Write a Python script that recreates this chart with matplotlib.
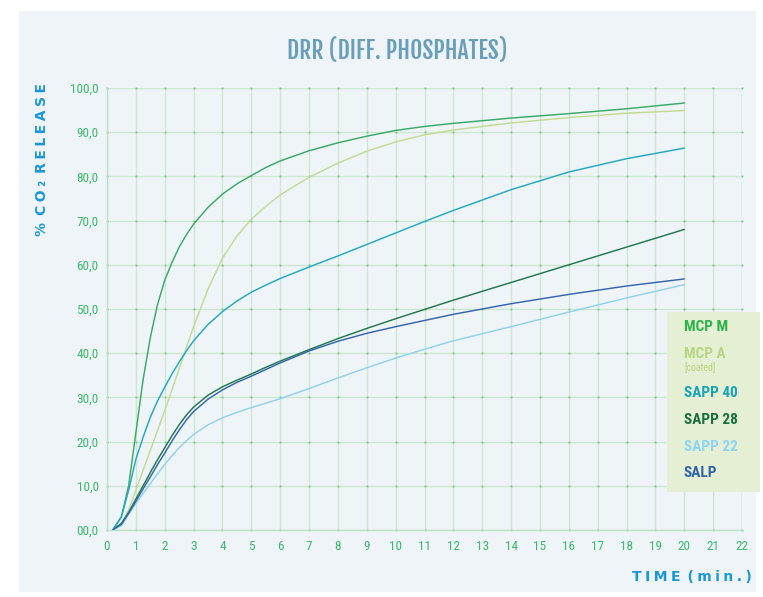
import matplotlib
matplotlib.use("Agg")
import matplotlib.pyplot as plt
from matplotlib.patches import Rectangle
import numpy as np

# ---- data ----
time    = [0.2, 0.5, 0.75, 1, 1.25, 1.5, 1.75, 2, 2.25, 2.5, 2.75, 3, 3.5, 4, 4.5, 5, 5.5, 6, 7, 8, 9, 10, 11, 12, 14, 16, 18, 20]
mcp_m   = [0, 3, 10, 22, 34, 43.5, 51, 56.5, 60.5, 64, 66.8, 69.2, 73, 76, 78.3, 80.2, 82, 83.5, 85.8, 87.6, 89.1, 90.4, 91.3, 92.0, 93.2, 94.2, 95.3, 96.6]
mcp_a   = [0, 1.5, 4.5, 9, 13.5, 18, 22.5, 27, 31.7, 36.5, 41.3, 46, 54.5, 61.5, 66.5, 70.3, 73.2, 75.8, 79.8, 83.0, 85.7, 87.8, 89.4, 90.5, 92.1, 93.3, 94.3, 94.9]
sapp_40 = [0, 3, 9, 16, 21, 25.5, 29.2, 32.3, 35.3, 38, 40.5, 42.8, 46.5, 49.4, 51.8, 53.8, 55.4, 56.9, 59.5, 62, 64.6, 67.2, 69.8, 72.3, 77, 81, 84, 86.4]
sapp_28 = [0, 1.5, 4, 7, 10, 13, 15.9, 18.6, 21.3, 23.8, 26, 27.8, 30.5, 32.4, 33.9, 35.3, 36.8, 38.2, 40.8, 43.3, 45.6, 47.8, 49.9, 52, 56, 60, 64, 68]
sapp_22 = [0, 1, 3.5, 6, 8.3, 10.5, 12.7, 14.8, 16.8, 18.6, 20.2, 21.6, 23.8, 25.4, 26.6, 27.7, 28.7, 29.7, 32, 34.4, 36.7, 38.9, 40.9, 42.8, 46, 49.3, 52.5, 55.5]
salp    = [0, 1.3, 3.8, 6.5, 9.3, 12, 14.8, 17.4, 20.1, 22.6, 24.9, 26.8, 29.6, 31.7, 33.4, 34.8, 36.3, 37.8, 40.5, 42.7, 44.5, 46, 47.4, 48.8, 51.2, 53.3, 55.2, 56.8]

series_names = ["MCP M", "MCP A", "SAPP 40", "SAPP 28", "SAPP 22", "SALP"]
series_values = [mcp_m, mcp_a, sapp_40, sapp_28, sapp_22, salp]
line_colors = ["#3aaa66", "#c2dc93", "#22a9c2", "#217a4a", "#90d2ef", "#3466ad"]
text_colors = ["#2db34a", "#b8d67f", "#17a3b6", "#1a6e3d", "#8fd4f4", "#2f62a8"]

x_ticks = list(range(0, 23))
y_ticks = list(range(0, 101, 10))
y_ticklabels = ["00,0", "10,0", "20,0", "30,0", "40,0", "50,0", "60,0", "70,0", "80,0", "90,0", "100,0"]

W, H = 763, 597
fig = plt.figure(figsize=(W / 100, H / 100), dpi=100, facecolor="white")

title_font = ["Fjalla One", "Oswald", "Antonio", "Roboto Condensed", "Liberation Sans", "DejaVu Sans"]
cond_font = ["Roboto Condensed", "Archivo Narrow", "Liberation Sans Narrow", "Liberation Sans", "DejaVu Sans"]

# light panel background
fig.patches.append(Rectangle((19 / W, 1 - 592 / H), (756 - 19) / W, (592 - 11) / H,
                             transform=fig.transFigure, facecolor="#eef4f8",
                             edgecolor="none", zorder=-5))

ax = fig.add_axes([107 / W, 1 - 530 / H, (742 - 107) / W, (530 - 88) / H])
ax.set_facecolor("none")
ax.set_xlim(0, 22)
ax.set_ylim(0, 100)

grid_c = "#cfe6cf"
ax.set_xticks(x_ticks)
ax.set_yticks(y_ticks)
ax.set_xticklabels([str(t) for t in x_ticks])
ax.set_yticklabels(y_ticklabels)
ax.grid(True, color=grid_c, linewidth=1.0, zorder=1)
ax.axvline(22, color=grid_c, linewidth=1.0, zorder=1)
ax.axhline(100, color=grid_c, linewidth=1.0, zorder=1)
for s in ["top", "right"]:
    ax.spines[s].set_visible(False)
for s in ["left", "bottom"]:
    ax.spines[s].set_color("#bfe0c2")
    ax.spines[s].set_linewidth(1.0)

# small tick marks at grid intersections
gx, gy = np.meshgrid(x_ticks, y_ticks)
ax.plot(gx.ravel(), gy.ravel(), linestyle="none", marker="s", markersize=1.3,
        markeredgewidth=0, color="#7cc58b", zorder=2, clip_on=False)

ax.tick_params(axis="both", length=0, colors="#3dba6b", labelsize=9.5)
ax.tick_params(axis="x", pad=7)
ax.tick_params(axis="y", pad=6)
for lab in ax.get_xticklabels() + ax.get_yticklabels():
    lab.set_fontfamily(cond_font)
    lab.set_color("#3dba6b")

for vals, c in zip(series_values, line_colors):
    ax.plot(time, vals, color=c, linewidth=1.05, zorder=3, solid_capstyle="round",
            solid_joinstyle="round")

# title
fig.text(397 / W, 1 - 51 / H, "DRR (DIFF. PHOSPHATES)", ha="center", va="center",
         fontsize=17, fontweight="bold", color="#6a9fbc", family=title_font)

sp = "\u2005"
# y label
ylab = sp.join(list("%")) + sp * 2 + sp.join(list("CO\u2082")) + sp * 2 + sp.join(list("RELEASE"))
fig.text(42 / W, 1 - 83 / H, ylab, rotation=90, ha="center", va="top",
         fontsize=10, fontweight="bold", color="#1997d6", family=["DejaVu Sans"])

# x label
xlab = sp.join(list("TIME")) + sp * 2 + sp.join(list("(min.)"))
fig.text(752 / W, 1 - 577 / H, xlab, ha="right", va="center",
         fontsize=10, fontweight="bold", color="#1997d6", family=["DejaVu Sans"])

# legend box
fig.patches.append(Rectangle((667 / W, 1 - 492 / H), (760 - 667) / W, (492 - 312) / H,
                             transform=fig.transFigure, facecolor="#e4efd3",
                             edgecolor="none", zorder=5))
leg_y = [327, 354, 393, 420, 447, 473]
for name, c, yy in zip(series_names, text_colors, leg_y):
    fig.text(684 / W, 1 - yy / H, name, ha="left", va="center", fontsize=11,
             fontweight="bold", color=c, family=cond_font, zorder=6)
fig.text(684 / W, 1 - 368 / H, "[coated]", ha="left", va="center", fontsize=7,
         color=text_colors[1], family=cond_font, zorder=6)

fig.savefig("out.png", dpi=100, facecolor="white")
